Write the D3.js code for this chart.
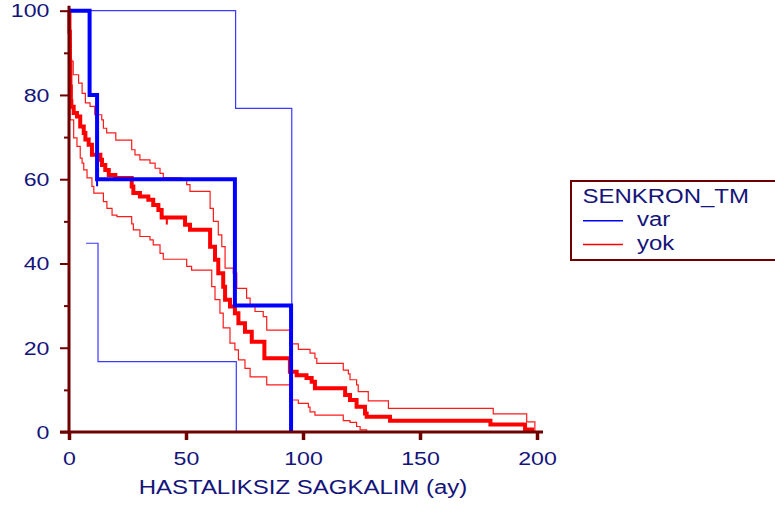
<!DOCTYPE html>
<html>
<head>
<meta charset="utf-8">
<script src="https://cdn.jsdelivr.net/npm/d3@7/dist/d3.min.js"></script>
<style>
  html, body { margin: 0; padding: 0; background: #ffffff; }
  svg { display: block; }
  text { font-family: "Liberation Sans", Arial, sans-serif; fill: #14147a; }
</style>
</head>
<body>
<svg id="chart" width="775" height="506"></svg>
<script>
// Kaplan-Meier survival estimates with 95% confidence bands, [months, % surviving]
const varKM    = [[0,100],[8.8,80],[12.0,60],[70.9,30],[94.9,0]];
const varUpper = [[0,100],[71.2,76.8],[95.2,0]];
const varLower = [[7.3,44.8],[12.4,16.7],[71.5,0],[95.2,0]];

const yokKM = [[0,100],[0.2,95],[0.4,88],[0.6,82],[0.8,78.5],[1.0,77.2],[2.0,75.7],[3.4,74.9],
  [4.8,72.5],[6.3,71.0],[7.0,69.4],[8.4,68.2],[9.8,65.8],[13.4,64.6],[14.1,63.4],[15.5,62.2],
  [17.0,61.0],[19.8,60.3],[26.8,58.3],[27.5,56.7],[30.3,55.9],[33.9,55.1],[36.0,53.9],[38.2,52.7],
  [39.6,50.9],[49.6,49.2],[51.7,48.0],[60.3,44.0],[62.4,40.9],[63.8,37.7],[65.9,34.5],[66.7,31.4],
  [68.8,29.8],[70.9,28.2],[72.4,25.8],[75.2,23.8],[78.1,21.4],[83.5,17.5],[94.4,14.3],[97.3,13.5],
  [101.5,12.8],[103.7,11.9],[105.1,10.4],[118.0,8.8],[120.1,7.6],[122.9,6.0],[126.5,4.4],[127.2,3.6],
  [137.2,2.7],[180.1,1.8],[194.9,0.6],[197.9,0]];

const yokUpper = [[0,100],[0.3,96],[0.6,92],[1.0,88],[1.8,84.8],[4.1,82.8],[5.6,80.4],[7.0,78.1],
  [9.0,77.3],[11.0,75.3],[14.0,74.1],[14.7,72.1],[16.1,71.0],[20.0,69.3],[26.8,67.0],[28.2,65.8],
  [30.3,64.6],[34.6,63.8],[36.8,62.6],[38.9,61.4],[40.3,60.3],[48.2,59.9],[50.3,58.7],[51.7,57.1],
  [60.3,53.1],[61.7,50.0],[63.8,46.8],[65.3,44.0],[66.7,38.9],[70.2,37.7],[71.7,34.1],[75.9,31.8],
  [77.4,29.8],[79.5,28.6],[83.0,27.4],[84.5,24.2],[94.4,20.9],[98.0,19.6],[103.0,18.7],[105.1,17.5],
  [105.9,16.3],[117.2,14.7],[119.4,13.8],[120.1,12.4],[122.9,11.2],[123.6,9.6],[127.9,7.4],[136.5,5.6],
  [181.3,4.3],[195.6,2.4],[199.1,0]];

const yokLower = [[0,100],[0.3,85],[0.5,74.1],[2.0,69.8],[3.4,67.8],[4.8,65.0],[5.6,63.8],[6.3,62.2],
  [7.7,60.3],[9.8,58.3],[10.6,56.7],[14.7,54.7],[16.2,53.1],[18.4,51.5],[20.5,51.1],[26.8,49.4],
  [27.5,48.0],[30.3,46.4],[34.6,45.6],[36.0,44.4],[38.9,42.4],[40.3,41.0],[50.3,39.3],[52.4,38.4],
  [61.0,34.5],[62.4,31.4],[64.5,28.2],[65.9,24.7],[68.8,21.1],[70.9,19.5],[72.4,17.1],[75.2,15.1],
  [77.4,13.1],[84.5,11.2],[94.4,7.6],[98.0,6.8],[102.3,5.9],[103.0,4.8],[105.1,4.0],[117.2,2.7],
  [120.1,2.3],[122.9,1.3],[124.4,0.5],[127.2,0]];

// censored observations
const varCensor = [[12.0,60]];
const yokCensor = [[41.8,50.9]];

const xTicks = [0,50,100,150,200];
const yTicks = [0,20,40,60,80,100];
const yMinorTicks = [10,30,50,70,90];
const xTitle = "HASTALIKSIZ SAGKALIM (ay)";
const legendTitle = "SENKRON_TM";
const groups = ["var","yok"];

const svg = d3.select("#chart");
const axisColor = "#6e0000";
const stretch = 1.22;

const x = d3.scaleLinear().domain([0,200]).range([69,537]);
const y = d3.scaleLinear().domain([0,100]).range([432,10.7]);

const step = d3.line().x(d => x(d[0])).y(d => y(d[1])).curve(d3.curveStepAfter);

function drawCurve(data, color, width) {
  svg.append("path").datum(data)
    .attr("d", step).attr("fill","none")
    .attr("stroke", color).attr("stroke-width", width)
    .attr("stroke-linejoin","miter");
}

// confidence bands, then estimates
drawCurve(yokUpper, "#ff1a1a", 1.2);
drawCurve(yokLower, "#ff1a1a", 1.2);
drawCurve(yokKM, "#ff0000", 4);
drawCurve(varUpper, "#3a3aff", 1.2);
drawCurve(varLower, "#3a3aff", 1.2);
drawCurve(varKM, "#0000ff", 4);

function drawCensor(data, color, width) {
  svg.selectAll(null).data(data).enter().append("line")
    .attr("x1", d => x(d[0])).attr("x2", d => x(d[0]))
    .attr("y1", d => y(d[1])).attr("y2", d => y(d[1]) + 7)
    .attr("stroke", color).attr("stroke-width", width);
}
drawCensor(varCensor, "#0000ff", 2);
drawCensor(yokCensor, "#ff0000", 2);

// y axis
const yAxisG = svg.append("g").attr("transform", `translate(${x(0)},0)`)
  .call(d3.axisLeft(y).tickValues(yTicks).tickSize(9).tickSizeOuter(0).tickFormat(d3.format("d")));
yAxisG.append("g").call(d3.axisLeft(y).tickValues(yMinorTicks).tickSize(5).tickSizeOuter(0).tickFormat(""));
yAxisG.selectAll(".domain").remove();
yAxisG.selectAll("line").attr("stroke", axisColor).attr("stroke-width", 3);
yAxisG.selectAll("g g.tick line").attr("stroke-width", 2);
yAxisG.selectAll("text")
  .attr("x", 0).attr("dy", "0.33em")
  .attr("transform", `translate(-19.5,0) scale(${stretch},1)`)
  .style("font-size", "19px").style("fill", "#14147a").style("font-family", "'Liberation Sans', Arial, sans-serif");

// x axis
const xAxisG = svg.append("g").attr("transform", `translate(0,${y(0)})`)
  .call(d3.axisBottom(x).tickValues(xTicks).tickSize(8).tickSizeOuter(0).tickFormat(d3.format("d")));
xAxisG.selectAll(".domain").remove();
xAxisG.selectAll("line").attr("stroke", axisColor).attr("stroke-width", 3.5);
xAxisG.selectAll("text")
  .attr("y", 0).attr("dy", 0)
  .attr("transform", `translate(0,33) scale(${stretch},1)`)
  .style("font-size", "19px").style("fill", "#14147a").style("font-family", "'Liberation Sans', Arial, sans-serif");

// axis lines
svg.append("line").attr("x1", x(0)).attr("x2", x(0)).attr("y1", y(100) - 5).attr("y2", y(0) + 1.5)
  .attr("stroke", axisColor).attr("stroke-width", 3);
svg.append("line").attr("x1", x(0) - 9).attr("x2", x(200) + 6).attr("y1", y(0)).attr("y2", y(0))
  .attr("stroke", axisColor).attr("stroke-width", 3);

// x axis title
svg.append("text")
  .attr("transform", `translate(${x(100)},494) scale(1.23,1)`)
  .attr("text-anchor", "middle").style("font-size", "19.5px")
  .text(xTitle);

// legend
const lg = svg.append("g");
lg.append("rect").attr("x", 571).attr("y", 181).attr("width", 230).attr("height", 79)
  .attr("fill", "#ffffff").attr("stroke", axisColor).attr("stroke-width", 2);
lg.append("text").attr("transform", "translate(582.5,203) scale(1.23,1)")
  .style("font-size", "19.5px").text(legendTitle);
const legendColors = ["#0000ff", "#ff0000"];
const legendRows = [220.7, 244.5];
groups.forEach((g, i) => {
  lg.append("line").attr("x1", 583).attr("x2", 623).attr("y1", legendRows[i]).attr("y2", legendRows[i])
    .attr("stroke", legendColors[i]).attr("stroke-width", 1.5);
  lg.append("text").attr("transform", `translate(637,${legendRows[i] + 5}) scale(1.23,1)`)
    .style("font-size", "19.5px").text(g);
});
</script>
</body>
</html>
